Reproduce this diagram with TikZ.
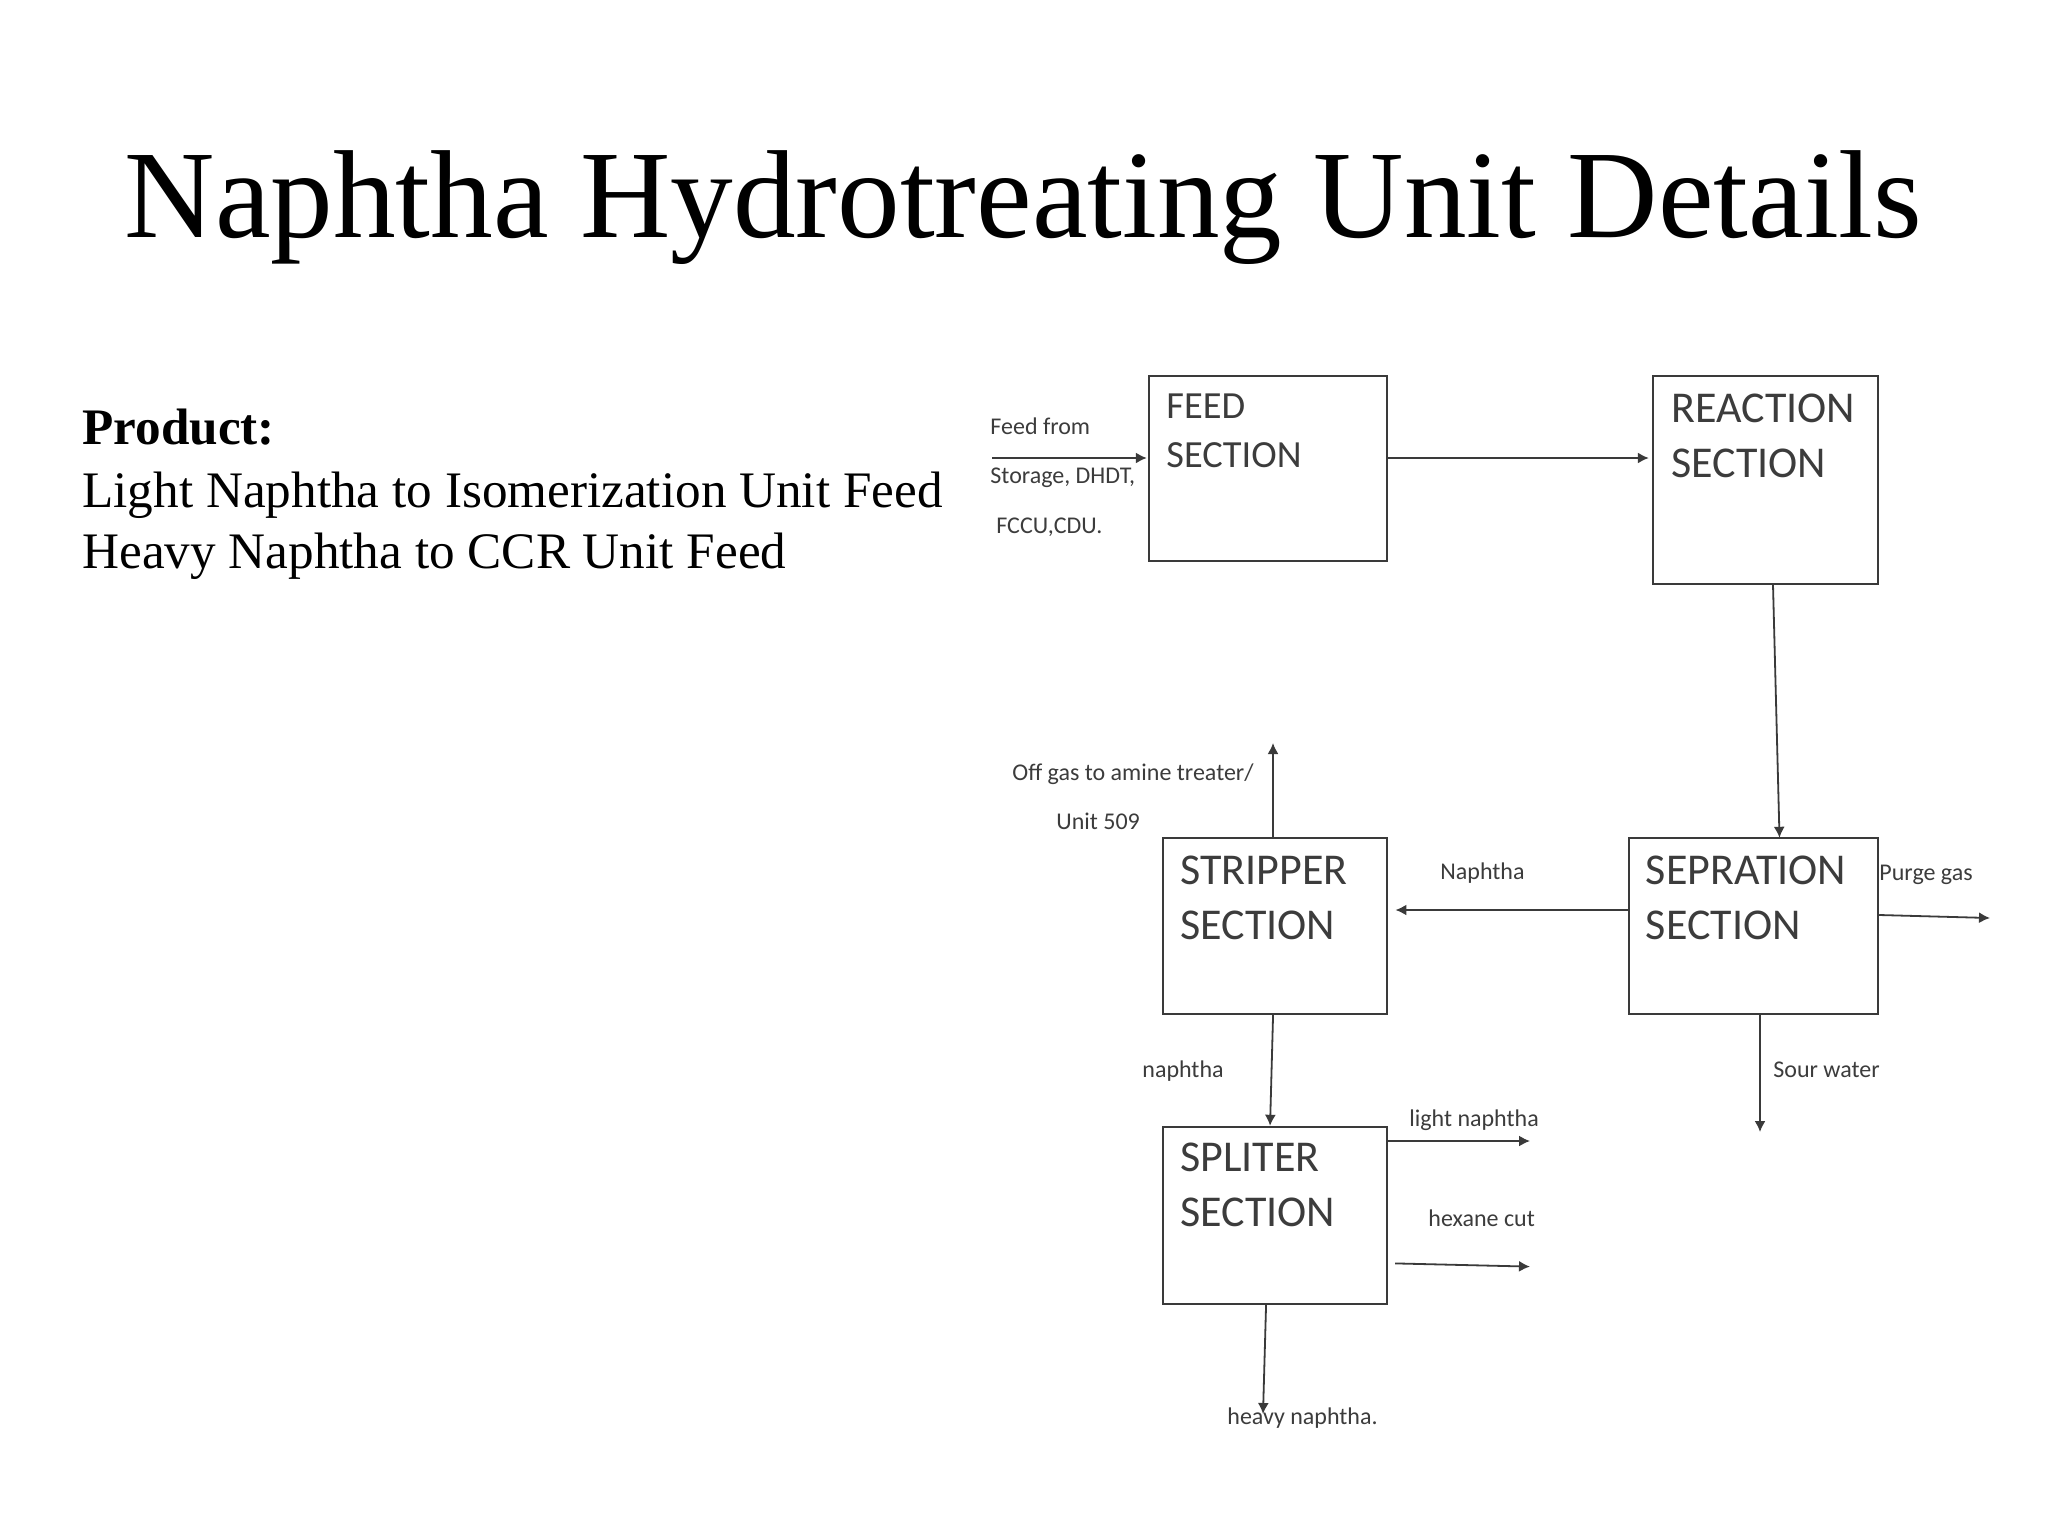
\documentclass[tikz,border=0pt]{standalone}
\usepackage{fontspec}
\setmainfont{Liberation Serif}
\newfontfamily\diagfont{Carlito}
\usetikzlibrary{arrows.meta}
\definecolor{boxline}{HTML}{3A3A3A}
\definecolor{difftext}{HTML}{3C3C3C}
\tikzset{
  unitbox/.style={draw=boxline,line width=1.2pt,rectangle,inner sep=0pt},
  bigsec/.style={anchor=west,inner sep=0pt,align=left,text=difftext,font=\diagfont\fontsize{22}{27.5}\selectfont},
  midsec/.style={anchor=west,inner sep=0pt,align=left,text=difftext,font=\diagfont\fontsize{19.2}{24.5}\selectfont},
  small/.style={anchor=west,inner sep=0pt,text=difftext,text height=7pt,text depth=2pt,font=\diagfont\fontsize{12}{14}\selectfont},
  flow/.style={draw=boxline,line width=0.9pt,-{Latex[length=5.5pt,width=5.5pt]}},
  slidetext/.style={anchor=base west,inner sep=0pt,font=\fontsize{25.6}{30}\selectfont}
}
\begin{document}
\begin{tikzpicture}[x=0.5pt,y=-0.5pt]
\useasboundingbox[fill=white] (0,0) rectangle (2048,1536);
\node[anchor=base,inner sep=0pt,font=\fontsize{62.6}{70}\selectfont] (title) at (1023.5,237) {Naphtha Hydrotreating Unit Details};
\node[slidetext,font=\bfseries\fontsize{25.6}{30}\selectfont] (prod) at (82,444) {Product:};
\node[slidetext] (light) at (82,507) {Light Naphtha to Isomerization Unit Feed};
\node[slidetext] (heavy) at (82,568) {Heavy Naphtha to CCR Unit Feed};
% boxes
\node[unitbox,minimum width=119pt,minimum height=92.5pt] (feed) at (1268,468.5) {};
\node[unitbox,minimum width=112.5pt,minimum height=104pt] (reaction) at (1765.5,480) {};
\node[unitbox,minimum width=112pt,minimum height=88pt] (stripper) at (1275.25,926) {};
\node[unitbox,minimum width=124.5pt,minimum height=88pt] (sepration) at (1753.5,926) {};
\node[unitbox,minimum width=112pt,minimum height=88.5pt] (spliter) at (1275.25,1215.5) {};
% box texts
\node[midsec] (tfeed) at (1166,430.5) {FEED\\SECTION};
\node[bigsec] (treaction) at (1671,436) {REACTION\\SECTION};
\node[bigsec] (tstripper) at (1180,898) {STRIPPER\\SECTION};
\node[bigsec] (tsepration) at (1645.5,898) {SEPRATION\\SECTION};
\node[bigsec] (tspliter) at (1180,1185) {SPLITER\\SECTION};
% labels
\node[small] (l1) at (990,429) {Feed from};
\node[small] (l2) at (990,478.5) {Storage, DHDT,};
\node[small] (l3) at (996,528) {FCCU,CDU.};
\node[small] (l4) at (1012,775.5) {Off gas to amine treater/};
\node[small] (l5) at (1056,824.5) {Unit 509};
\node[small] (l6) at (1440,874.5) {Naphtha};
\node[small] (l7) at (1879,875) {Purge gas};
\node[small] (l8) at (1142,1072) {naphtha};
\node[small] (l9) at (1773,1072) {Sour water};
\node[small] (l10) at (1409,1121.5) {light naphtha};
\node[small] (l11) at (1428,1221.5) {hexane cut};
\node[small] (l12) at (1227,1419) {heavy naphtha.};
% free ends
\coordinate (cin) at (992,458);
\coordinate (coff) at (1273,743);
\coordinate (cpurge) at (1990,918);
\coordinate (csour) at (1760,1132);
\coordinate (clight) at (1530,1141);
\coordinate (chexa) at (1395,1263.4);
\coordinate (chexb) at (1530,1266.6);
\coordinate (cheavy) at (1263,1414);
% connectors
\draw[flow] (cin) -- ([xshift=-0.5pt,yshift=5.25pt]feed.west);
\draw[flow] ([yshift=5.25pt]feed.east) -- ([xshift=-1.5pt,yshift=11pt]reaction.west);
\draw[flow] ([xshift=3.75pt]reaction.south) -- ([xshift=13pt,yshift=-0.5pt]sepration.north);
\draw[flow] ([xshift=-1.1pt]stripper.north) -- (coff);
\draw[flow] ([yshift=8pt]sepration.west) -- ([xshift=3.5pt,yshift=8pt]stripper.east);
\draw[flow] ([yshift=5.5pt]sepration.east) -- (cpurge);
\draw[flow] ([xshift=3.25pt]sepration.south) -- (csour);
\draw[flow] ([xshift=-1.1pt]stripper.south) -- ([xshift=-2.6pt]spliter.north);
\draw[flow] ([yshift=37.25pt]spliter.east) -- (clight);
\draw[flow] (chexa) -- (chexb);
\draw[flow] ([xshift=-4.6pt]spliter.south) -- (cheavy);
\end{tikzpicture}
\end{document}
